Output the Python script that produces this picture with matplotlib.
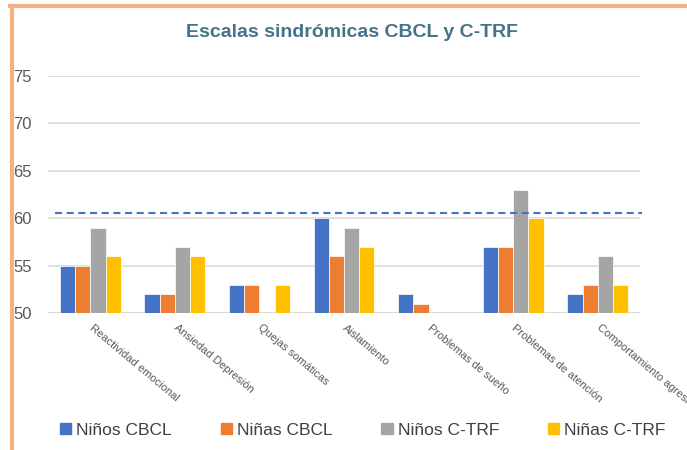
import numpy as np
import matplotlib
matplotlib.use('Agg')
import matplotlib.pyplot as plt
from matplotlib.lines import Line2D

categories = ['Reactividad emocional', 'Ansiedad Depresión', 'Quejas somáticas',
              'Aislamiento', 'Problemas de sueño', 'Problemas de atención',
              'Comportamiento agresivo']
series_names = ['Niños CBCL', 'Niñas CBCL', 'Niños C-TRF', 'Niñas C-TRF']
ninos_cbcl = [55, 52, 53, 60, 52, 57, 52]
ninas_cbcl = [55, 52, 53, 56, 51, 57, 53]
ninos_ctrf = [59, 57, np.nan, 59, np.nan, 63, 56]
ninas_ctrf = [56, 56, 53, 57, np.nan, 60, 53]
cutoff = 60.6

colors = ['#4472C4', '#ED7D31', '#A5A5A5', '#FFC000']
series = [ninos_cbcl, ninas_cbcl, ninos_ctrf, ninas_ctrf]

plt.rcParams['font.family'] = ['Liberation Sans', 'DejaVu Sans']

fig = plt.figure(figsize=(6.87, 4.5), dpi=100)
ax = fig.add_axes([0.07, 0.3044, 0.8616, 0.5267])

x = np.arange(len(categories))
w = 0.18
for i, (vals, c, name) in enumerate(zip(series, colors, series_names)):
    vals = np.array(vals, dtype=float)
    ax.bar(x + (i - 1.5) * w, vals - 50, w, bottom=50, color=c,
           edgecolor='white', linewidth=0.5, label=name, zorder=3)

# dashed reference line
ax.plot([-0.42, 6.52], [cutoff, cutoff], color='#4472C4', lw=1.5,
        dashes=(3.4, 2.2), clip_on=False, zorder=4)

ax.set_xlim(-0.5, 6.5)
ax.set_ylim(50, 75)
ax.set_yticks(range(50, 76, 5))
ax.yaxis.grid(True, color='#D9D9D9', lw=1.2, zorder=0)
ax.axhline(50, color='#D9D9D9', lw=2, zorder=2)
for s in ax.spines.values():
    s.set_visible(False)
ax.tick_params(axis='both', length=0)
ax.tick_params(axis='y', labelsize=12, labelcolor='#595959', pad=12)
ax.set_xticks(x + 0.04)
ax.set_xticklabels(categories, rotation=-40, ha='left', va='top',
                   rotation_mode='anchor', fontsize=8, color='#595959')
ax.tick_params(axis='x', pad=7)

fig.text(0.512, 0.928, 'Escalas sindrómicas CBCL y C-TRF', ha='center', va='center',
         fontsize=14, fontweight='bold', color='#44748A')

handles = [plt.Rectangle((0, 0), 1, 1, color=c) for c in colors]
fig.legend(handles, series_names, loc='center', bbox_to_anchor=(0.528, 0.044),
           ncol=4, frameon=False, fontsize=12.5, handlelength=0.65, handleheight=0.65,
           handletextpad=0.3, columnspacing=2.8, labelcolor='#404040')

frame_col = '#F4B183'
fig.add_artist(Line2D([0.017, 0.017], [0.0, 0.986], color=frame_col, lw=3,
                      transform=fig.transFigure))
fig.add_artist(Line2D([0.015, 1.0], [0.986, 0.986], color=frame_col, lw=3,
                      transform=fig.transFigure))

fig.savefig('out.png', dpi=100)
